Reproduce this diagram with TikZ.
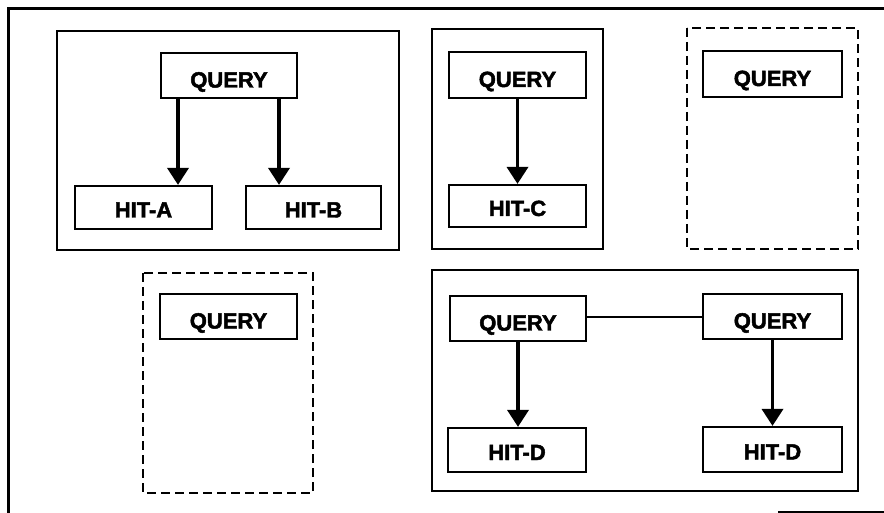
\documentclass[tikz,border=0pt]{standalone}
\usepackage{fontspec}
\setmainfont{Liberation Sans}
\newfontfamily\heavyfont{Liberation Sans Bold}[FakeBold=2.2]
\usetikzlibrary{arrows.meta}
\begin{document}
\begin{tikzpicture}[x=1pt,y=-1pt,
  lbl/.style={draw, line width=2.2pt, inner sep=0pt, text depth=0pt, text height=24pt,
              font=\fontsize{22}{26}\heavyfont},
  hit/.style={lbl, text height=20pt},
  grp/.style={draw, line width=2.2pt},
  grpdash/.style={draw, line width=2.6pt, dash pattern=on 9pt off 5pt},
  arr/.style={line width=3.6pt, -{Triangle[width=21pt,length=17pt]}},
  link/.style={line width=2pt}]
\useasboundingbox (0,0) rectangle (884,513);
% outer frame (partly cut off)
\draw[line width=3pt] (8,513) -- (8,9) -- (884,9);
\draw[line width=2pt] (778,512) -- (884,512);
% containers
\draw[grp] (57,31) rectangle (399,250);
\draw[grp] (432,29) rectangle (603,249);
\draw[grpdash] (687,28) rectangle (858,249);
\draw[grpdash] (143,273) rectangle (313,493);
\draw[grp] (432,270) rectangle (858,491);
% nodes
\node[lbl, minimum width=136pt, minimum height=45pt] (Q1) at (229,75.5) {QUERY};
\node[hit, minimum width=137pt, minimum height=43pt] (HA) at (143.5,207.5) {HIT-A};
\node[hit, minimum width=135pt, minimum height=43pt] (HB) at (313.5,207.5) {HIT-B};
\node[lbl, minimum width=137pt, minimum height=46pt] (Q2) at (517.5,75) {QUERY};
\node[hit, minimum width=137pt, minimum height=42pt] (HC) at (517.5,206) {HIT-C};
\node[lbl, minimum width=139pt, minimum height=46pt] (Q3) at (772.5,74) {QUERY};
\node[lbl, minimum width=137pt, minimum height=45pt] (Q4) at (228.5,316.5) {QUERY};
\node[lbl, minimum width=136pt, minimum height=45pt] (Q5a) at (518,318.5) {QUERY};
\node[lbl, minimum width=139pt, minimum height=45pt] (Q5b) at (772.5,316.5) {QUERY};
\node[hit, minimum width=138pt, minimum height=44pt] (HDa) at (517,450) {HIT-D};
\node[hit, minimum width=139pt, minimum height=45pt] (HDb) at (772.5,449.5) {HIT-D};
% connectors
\draw[arr] ([xshift=-51pt]Q1.south) -- ([xshift=-51pt]Q1.south |- HA.north);
\draw[arr] ([xshift=50pt]Q1.south) -- ([xshift=50pt]Q1.south |- HB.north);
\draw[arr] (Q2.south) -- (Q2.south |- HC.north);
\draw[arr] (Q5a.south) -- (Q5a.south |- HDa.north);
\draw[arr] (Q5b.south) -- (Q5b.south |- HDb.north);
\draw[link] (Q5a.east |- Q5b.west) -- (Q5b.west);
\end{tikzpicture}
\end{document}
